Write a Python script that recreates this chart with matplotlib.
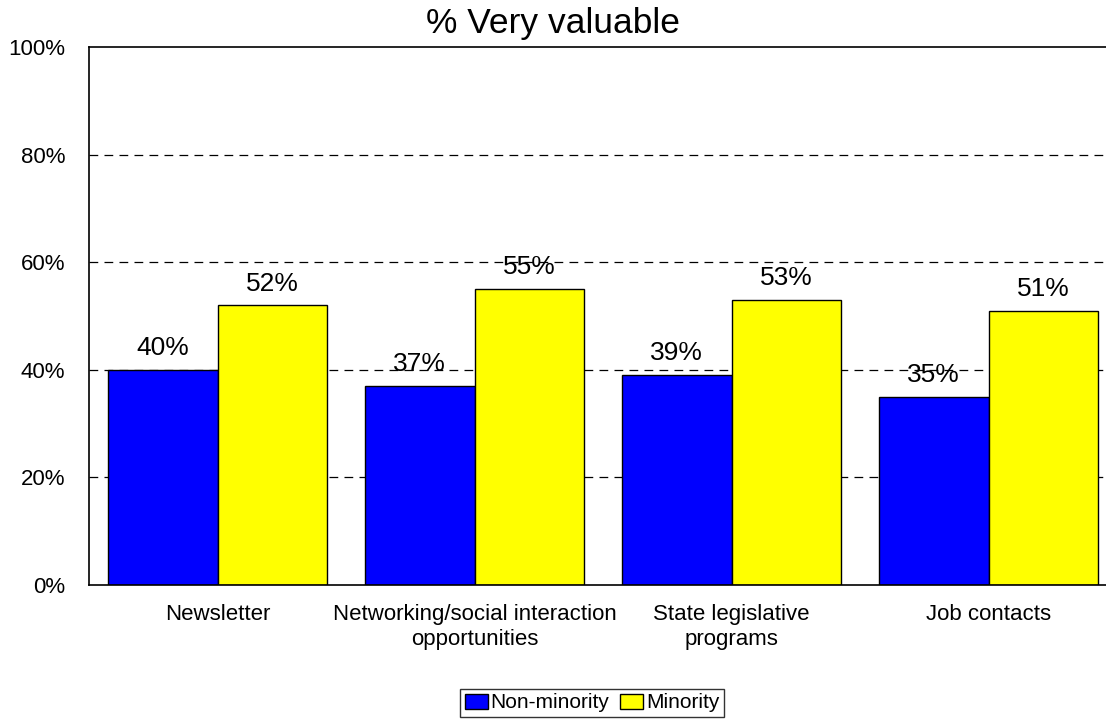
import matplotlib.pyplot as plt
import numpy as np

plt.rcParams['font.family'] = ['Liberation Sans', 'DejaVu Sans']

categories = ["Newsletter", "Networking/social interaction\nopportunities",
              "State legislative\nprograms", "Job contacts"]
non_minority = [40, 37, 39, 35]
minority = [52, 55, 53, 51]
yticks = [0, 20, 40, 60, 80, 100]

fig = plt.figure(figsize=(11.06, 7.21), dpi=100)
ax = fig.add_axes([89 / 1106, 136 / 721, 1028 / 1106, 538 / 721])

x = np.arange(len(categories))
w = 0.426
b1 = ax.bar(x - w / 2, non_minority, w, color='#0000FF', edgecolor='black',
            linewidth=1, label='Non-minority', zorder=2)
b2 = ax.bar(x + w / 2, minority, w, color='#FFFF00', edgecolor='black',
            linewidth=1, label='Minority', zorder=2)

for bars, vals in ((b1, non_minority), (b2, minority)):
    for r, v in zip(bars, vals):
        ax.annotate(f"{v}%", (r.get_x() + r.get_width() / 2, v),
                    xytext=(0, 7), textcoords='offset points',
                    ha='center', va='bottom', fontsize=19, zorder=4)

ax.set_xlim(-0.5, len(categories) - 0.5)
ax.set_ylim(0, 100)
ax.set_yticks(yticks)
ax.set_yticklabels([f"{t}%" for t in yticks], fontsize=16)
ax.set_xticks(x)
ax.set_xticklabels(categories, fontsize=16, va='top', linespacing=1.25)
ax.tick_params(axis='both', length=0, pad=14)
ax.tick_params(axis='y', pad=17)
for t in yticks[1:-1]:
    ax.axhline(t, color='black', linestyle=(0, (7, 5)), linewidth=0.9, zorder=1)
ax.spines['right'].set_visible(False)
for s in ('top', 'left', 'bottom'):
    ax.spines[s].set_linewidth(1.2)

fig.text(0.5, 1 - 23 / 721, "% Very valuable", ha='center', va='center', fontsize=25.5)

fig.legend(handles=[b1, b2], loc='center', bbox_to_anchor=(592 / 1106, 1 - 703 / 721),
           ncol=2, fontsize=15, frameon=True, fancybox=False, edgecolor='black',
           handlelength=1.1, handleheight=0.75, handletextpad=0.15, columnspacing=0.5,
           borderpad=0.2, borderaxespad=0)

plt.savefig("out.png", dpi=100)
